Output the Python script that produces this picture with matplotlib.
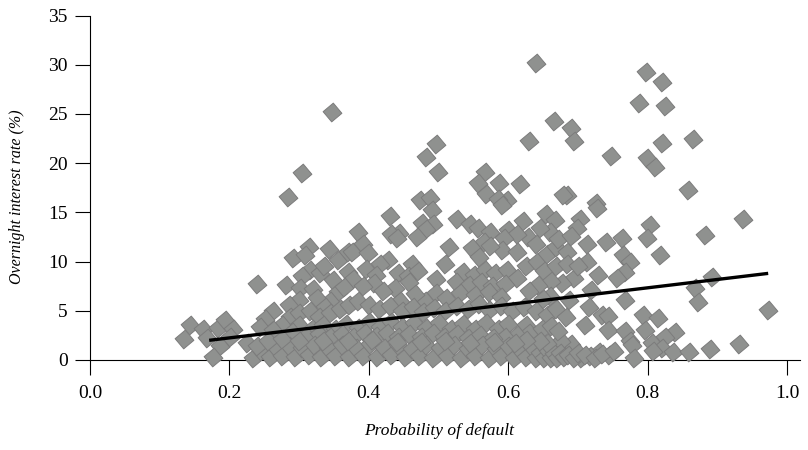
"""
Overnight interest rate vs probability of default scatter, with fitted line.
"""
import matplotlib
matplotlib.use("Agg")
import matplotlib.pyplot as plt
from matplotlib.markers import MarkerStyle
from matplotlib.transforms import Affine2D

plt.rcParams["font.family"] = "Liberation Serif"

# values: (probability of default, overnight rate %)
outer_points = [
    (.797, 29.3), (.821, 28.2), (.788, 26.1), (.825, 25.8), (.690, 23.6), (.694, 22.2),
    (.865, 22.5), (.821, 22.0), (.748, 20.7), (.799, 20.5), (.811, 19.6), (.858, 17.3),
    (.684, 16.8), (.726, 16.0), (.727, 15.4), (.937, 14.3), (.803, 13.7), (.799, 12.4),
    (.703, 14.3), (.699, 13.4), (.882, 12.7), (.763, 12.4), (.741, 12.0), (.713, 11.8),
    (.818, 10.7), (.764, 10.7), (.775, 10.0), (.713, 10.0), (.768, 8.9), (.729, 8.6),
    (.756, 8.3), (.893, 8.4), (.695, 8.3), (.677, 7.8), (.868, 7.3), (.719, 7.1),
    (.873, 5.9), (.767, 6.1), (.687, 6.1), (.973, 5.1), (.716, 5.4), (.735, 4.6),
    (.743, 4.5), (.793, 4.6), (.815, 4.3), (.710, 3.6), (.743, 3.0), (.796, 3.0),
    (.768, 2.9), (.839, 2.8), (.825, 2.3), (.775, 1.9), (.778, 1.5), (.806, 1.7),
    (.820, 1.2), (.808, .9), (.836, .8), (.859, .8), (.889, 1.1), (.931, 1.6),
    (.780, .2), (.745, .5), (.730, .8), (.718, .4), (.704, .2), (.690, 1.0),
    (.678, 1.1), (.690, 1.6), (.676, 1.9), (.640, 30.2), (.665, 24.3), (.630, 22.3),
    (.347, 25.2), (.304, 19.0), (.284, 16.6), (.496, 21.9), (.482, 20.6), (.499, 19.1),
    (.567, 19.1), (.557, 18.0), (.587, 18.0), (.617, 17.9), (.568, 16.9), (.598, 16.3),
    (.585, 16.4), (.591, 15.7), (.679, 16.8), (.473, 16.3), (.488, 16.5), (.491, 15.2),
]
upper_points = [
    (.314, 11.5), (.343, 11.3), (.291, 10.4), (.308, 10.7), (.316, 9.1), (.330, 8.8),
    (.356, 10.2), (.370, 11.0), (.349, 8.1), (.356, 6.9), (.304, 8.5), (.240, 7.7),
    (.281, 7.6), (.301, 7.3), (.300, 6.1), (.286, 5.6), (.430, 14.6), (.476, 13.9),
    (.492, 13.8), (.482, 13.3), (.469, 12.5), (.443, 12.9), (.432, 12.8), (.440, 12.4),
    (.526, 14.3), (.545, 13.8), (.557, 13.4), (.574, 13.0), (.621, 14.1), (.600, 13.2),
    (.654, 14.8), (.667, 14.2), (.660, 13.0), (.646, 13.4), (.628, 12.5), (.612, 12.8),
    (.594, 12.4), (.565, 12.0), (.548, 11.4), (.591, 11.2), (.612, 11.0), (.574, 11.6),
    (.558, 10.5), (.384, 13.0), (.392, 11.8), (.376, 11.0), (.399, 10.9), (.515, 11.5),
    (.509, 9.8), (.496, 8.2), (.462, 9.8), (.428, 10.2), (.416, 9.8), (.396, 9.2),
    (.370, 8.9), (.442, 8.8), (.456, 8.5), (.470, 9.0), (.458, 7.9), (.438, 7.3),
    (.410, 8.6), (.407, 7.8), (.378, 8.2), (.392, 7.5), (.420, 7.0), (.365, 7.4),
    (.535, 8.9), (.551, 8.6), (.566, 9.1), (.581, 8.8), (.598, 9.1), (.612, 8.3),
    (.525, 7.9), (.544, 7.6), (.561, 7.9), (.577, 7.5), (.596, 7.7), (.531, 6.8),
    (.553, 6.6), (.572, 6.9), (.590, 6.4), (.625, 9.5), (.641, 10.0), (.655, 10.8),
    (.668, 11.5), (.685, 11.0), (.672, 12.3), (.690, 12.6), (.640, 11.8), (.651, 9.0),
    (.662, 8.0), (.643, 7.6), (.668, 9.6), (.684, 9.8), (.700, 9.5), (.660, 6.5),
    (.630, 7.0), (.650, 6.2), (.336, 9.6), (.345, 6.0), (.320, 7.2), (.325, 6.3),
    (.497, 6.8), (.511, 6.3), (.480, 6.0), (.466, 6.7), (.445, 6.0),
]
middle_points = [
    (.262, 5.0), (.251, 4.2), (.244, 3.4), (.287, 4.4), (.143, 3.6), (.135, 2.1),
    (.162, 3.1), (.168, 2.2), (.184, 3.3), (.194, 4.1), (.205, 3.2), (.201, 2.3),
    (.187, 1.4), (.176, .3), (.225, 1.7), (.337, 5.4), (.300, 4.8), (.275, 3.6),
    (.262, 3.0), (.315, 5.0), (.328, 4.4), (.345, 4.8), (.358, 5.2), (.372, 5.6),
    (.385, 6.0), (.400, 5.6), (.414, 5.2), (.430, 5.5), (.448, 5.0), (.463, 5.4),
    (.478, 4.9), (.494, 5.3), (.510, 5.0), (.526, 5.5), (.543, 5.2), (.558, 5.7),
    (.573, 5.1), (.590, 5.5), (.606, 5.0), (.622, 5.4), (.640, 5.0), (.655, 4.6),
    (.668, 5.2), (.683, 4.4), (.300, 3.6), (.318, 3.2), (.335, 3.6), (.352, 3.2),
    (.368, 3.7), (.385, 3.3), (.400, 3.9), (.416, 3.4), (.432, 3.9), (.448, 3.4),
    (.465, 3.8), (.482, 3.3), (.500, 3.8), (.518, 3.2), (.535, 3.7), (.552, 3.2),
    (.568, 3.8), (.585, 3.2), (.600, 3.7), (.626, 3.6), (.630, 2.7), (.648, 3.2),
    (.662, 3.5), (.672, 2.9), (.612, 2.5), (.596, 2.3), (.290, 2.8), (.310, 2.4),
    (.328, 2.6), (.345, 2.3), (.362, 2.6), (.378, 2.3), (.394, 2.7), (.410, 2.4),
    (.426, 2.7), (.442, 2.3), (.458, 2.6), (.475, 2.3), (.492, 2.7), (.508, 2.3),
    (.526, 2.6), (.543, 2.2), (.560, 2.5), (.578, 2.2),
]
bottom_points = [
    (.234, .2), (.246, .9), (.258, .3), (.268, 1.1), (.276, .4), (.286, 1.4), (.294, .3),
    (.304, 1.2), (.314, .5), (.322, 1.5), (.332, .3), (.342, 1.2), (.352, .4), (.362, 1.5),
    (.372, .3), (.382, 1.2), (.392, .4), (.402, 1.6), (.412, .3), (.422, 1.2), (.432, .5),
    (.442, 1.5), (.452, .3), (.462, 1.1), (.472, .4), (.482, 1.5), (.492, .2), (.502, 1.2),
    (.512, .4), (.522, 1.5), (.532, .2), (.542, 1.1), (.552, .4), (.562, 1.5), (.572, .2),
    (.582, 1.1), (.590, .4), (.600, 1.4), (.608, .2), (.618, .9), (.625, .3), (.633, 1.4),
    (.640, .2), (.646, .7), (.652, .2), (.657, .9), (.662, .2), (.666, .6), (.670, .2),
    (.674, .7), (.680, .3), (.686, .5), (.694, .2), (.700, .7), (.710, .5), (.724, .2),
    (.735, .6), (.752, .9), (.655, 1.7), (.645, 1.9), (.625, 2.0), (.240, 1.4), (.255, 1.9),
    (.275, 2.1), (.300, 1.9), (.335, 1.9), (.370, 1.9), (.405, 2.0), (.440, 1.8), (.475, 1.8),
    (.510, 1.9), (.545, 1.7), (.580, 1.8), (.610, 1.7),
]
points = outer_points + upper_points + middle_points + bottom_points
default_prob = [p[0] for p in points]
overnight_rate = [p[1] for p in points]

fit_x = [.171, .973]
fit_y = [2.0, 8.8]

x_ticks = [0.0, 0.2, 0.4, 0.6, 0.8, 1.0]
y_ticks = [0, 5, 10, 15, 20, 25, 30, 35]

W, H = 808, 450
fig = plt.figure(figsize=(W / 100, H / 100), dpi=100)
ax = fig.add_axes([90 / W, 1 - 360 / H, 710 / W, 344.5 / H])
ax.set_xlim(0, 710 / 697)
ax.set_ylim(0, 35)

# slightly turned square, as in the original
marker = MarkerStyle("s", transform=Affine2D().rotate_deg(40))
ax.scatter(default_prob, overnight_rate, s=92, marker=marker, facecolor="#8f918f",
           edgecolor="#7c7c7c", linewidth=0.7, clip_on=False, zorder=3)
ax.plot(fit_x, fit_y, color="black", linewidth=2.4, zorder=4, solid_capstyle="butt")

ax.spines["top"].set_visible(False)
ax.spines["right"].set_visible(False)
for side in ["left", "bottom"]:
    ax.spines[side].set_linewidth(0.8)
ax.set_xticks(x_ticks)
ax.set_xticklabels([f"{v:.1f}" for v in x_ticks])
ax.set_yticks(y_ticks)
ax.tick_params(axis="x", length=11, width=0.8, pad=7, labelsize=14)
ax.tick_params(axis="y", length=11, width=0.8, pad=5, labelsize=14)

fig.text(439 / W, 1 - 431 / H, "Probability of default", style="italic", fontsize=12.5,
         ha="center", va="center")
fig.text(17 / W, 1 - 197 / H, "Overnight interest rate (%)", style="italic", fontsize=11.5,
         rotation=90, ha="center", va="center")

fig.savefig("out.png", dpi=100)
